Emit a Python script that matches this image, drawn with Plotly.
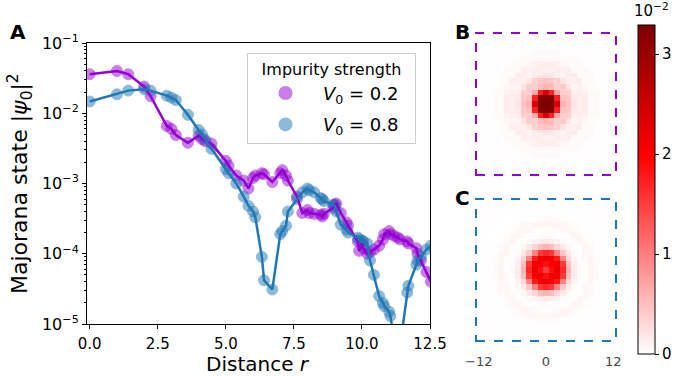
import numpy as np
import plotly.graph_objects as go

# ---------------- data ----------------
# distances (lattice distances) and |psi0|^2 for V0 = 0.2
r_02 = [0, 1, 1.414, 2, 2.236, 2.828, 3, 3.162, 3.606, 4, 4.123, 4.243, 4.472,
        5, 5.099, 5.385, 5.657, 5.831, 6, 6.083, 6.325, 6.403, 6.708, 7, 7.071,
        7.211, 7.28, 7.616, 7.81, 8, 8.062, 8.246, 8.485, 8.544, 8.602, 8.944,
        9, 9.055, 9.22, 9.434, 9.487, 9.849, 9.899, 10, 10.05, 10.198, 10.296,
        10.44, 10.63, 10.77, 10.817, 11, 11.045, 11.18, 11.314, 11.402, 11.662,
        11.705, 12, 12.042, 12.166, 12.369, 12.53]
psi_02 = [0.036, 0.040, 0.036, 0.024, 0.0175, 0.0066, 0.006, 0.0049, 0.0038,
          0.0048, 0.0043, 0.0040, 0.0037, 0.0021, 0.0018, 0.0013, 0.0011,
          0.00085, 0.0012, 0.0013, 0.0014, 0.00135, 0.00105, 0.0014, 0.00155,
          0.0013, 0.0011, 0.00065, 0.00038, 0.00042, 0.00038, 0.00037, 0.00036,
          0.00034, 0.00037, 0.00045, 0.00050, 0.00052, 0.00038, 0.00028,
          0.00025, 0.00015, 0.00011, 0.00014, 0.00012, 0.00010, 0.000105,
          0.000115, 0.00013, 0.00016, 0.00019, 0.00021, 0.00019, 0.00018,
          0.00017, 0.00016, 0.00015, 0.00014, 0.00012, 0.0001, 0.00008,
          0.000055, 0.00004]

# distances and |psi0|^2 for V0 = 0.8
r_08 = r_02
psi_08 = [0.0147, 0.0186, 0.021, 0.022, 0.021, 0.0178, 0.0167, 0.0154, 0.0095,
          0.0058, 0.0050, 0.0042, 0.0031, 0.0016, 0.0014, 0.0010, 0.00065,
          0.00048, 0.00040, 0.00033, 0.00009, 0.000042, 0.000031, 0.00019,
          0.00021, 0.00025, 0.00040, 0.00060, 0.00075, 0.00085, 0.00080,
          0.00075, 0.00062, 0.00060, 0.00056, 0.00050, 0.00048, 0.00040,
          0.00026, 0.00022, 0.00020, 0.00017, 0.00016, 0.000155, 0.00015,
          0.00014, 0.00008, 0.00005, 0.000025, 0.00002, 0.000018, 0.000015,
          0.000013, 0.000006, 0.000004, 0.000005, 0.000028, 0.000035, 0.00007,
          0.00008, 0.00009, 0.000115, 0.00013]

x_ticks = [0, 2.5, 5, 7.5, 10, 12.5]
x_ticklabels = ["0.0", "2.5", "5.0", "7.5", "10.0", "12.5"]
y_ticks = [1e-5, 1e-4, 1e-3, 1e-2, 1e-1]
y_ticklabels = ["10<sup>−5</sup>", "10<sup>−4</sup>", "10<sup>−3</sup>",
                "10<sup>−2</sup>", "10<sup>−1</sup>"]
grid_coords = list(range(-12, 13))
cb_ticks = [0, 0.01, 0.02, 0.03]
cb_ticklabels = ["0", "1", "2", "3"]

PURPLE = "#9400D3"
BLUE = "#1f77b4"
W, H = 676, 376
FONT = "DejaVu Sans"
PAD = "\u00a0" * 2


def fx(p):
    return p / W


def fy(p):
    return 1 - p / H


def radial_map(r, vals):
    r = np.asarray(r, float)
    vals = np.asarray(vals, float)
    g = np.asarray(grid_coords, float)
    X, Y = np.meshgrid(g, g)
    D = np.sqrt(X ** 2 + Y ** 2)
    idx = np.abs(D[..., None] - r[None, None, :]).argmin(axis=-1)
    return vals[idx]


fig = go.Figure()

# markers
fig.add_trace(go.Scatter(x=r_02, y=psi_02, mode="markers",
                         name="<i>V</i><sub>0</sub> = 0.2" + PAD,
                         legendgroup="a",
                         marker=dict(size=11, color=PURPLE, opacity=0.5,
                                     line=dict(color=PURPLE, width=1)),
                         xaxis="x", yaxis="y"))
fig.add_trace(go.Scatter(x=r_08, y=psi_08, mode="markers",
                         name="<i>V</i><sub>0</sub> = 0.8" + PAD,
                         legendgroup="b",
                         marker=dict(size=11, color=BLUE, opacity=0.5,
                                     line=dict(color=BLUE, width=1)),
                         xaxis="x", yaxis="y"))
# lines
fig.add_trace(go.Scatter(x=r_02, y=psi_02, mode="lines", showlegend=False,
                         line=dict(color=PURPLE, width=2.5), xaxis="x", yaxis="y"))
fig.add_trace(go.Scatter(x=r_08, y=psi_08, mode="lines", showlegend=False,
                         line=dict(color=BLUE, width=2.5), xaxis="x", yaxis="y"))

# heatmaps
fig.add_trace(go.Heatmap(z=radial_map(r_02, psi_02), x=grid_coords, y=grid_coords,
                         coloraxis="coloraxis", xaxis="x2", yaxis="y2"))
fig.add_trace(go.Heatmap(z=radial_map(r_08, psi_08), x=grid_coords, y=grid_coords,
                         coloraxis="coloraxis", xaxis="x3", yaxis="y3"))


def ann(text, x, y, size, angle=0, color="black"):
    return dict(text=text, x=fx(x), y=fy(y), xref="paper", yref="paper",
                xanchor="center", yanchor="middle", textangle=angle,
                showarrow=False, font=dict(family=FONT, size=size, color=color))


fig.update_layout(
    width=W, height=H,
    margin=dict(l=0, r=0, t=0, b=0, pad=0, autoexpand=False),
    paper_bgcolor="white", plot_bgcolor="white",
    font=dict(family=FONT, color="black"),
    xaxis=dict(domain=[fx(87), fx(430)], range=[-0.1, 12.5], anchor="y",
               tickvals=x_ticks, ticktext=x_ticklabels,
               tickfont=dict(family=FONT, size=15, color="black"),
               ticks="outside", ticklen=4, tickcolor="black", ticklabelstandoff=2,
               showline=True, linecolor="black", linewidth=1, mirror=True,
               showgrid=False, zeroline=False, automargin=False),
    yaxis=dict(domain=[fy(324), fy(43)], type="log", range=[-5, -1], anchor="x",
               tickvals=y_ticks, ticktext=y_ticklabels,
               tickfont=dict(family=FONT, size=16, color="black"),
               ticks="outside", ticklen=4, tickcolor="black",
               minor=dict(ticks="outside", ticklen=2, tickcolor="black", dtick="D1",
                          showgrid=False),
               showline=True, linecolor="black", linewidth=1, mirror=True,
               showgrid=False, zeroline=False, automargin=False),
    xaxis2=dict(domain=[fx(476), fx(616)], range=[-12.5, 12.5], anchor="y2",
                visible=False),
    yaxis2=dict(domain=[fy(175), fy(33)], range=[-12.5, 12.5], anchor="x2",
                visible=False),
    xaxis3=dict(domain=[fx(476), fx(616)], range=[-12.5, 12.5], anchor="y3",
                tickvals=[-12, 0, 12], ticktext=["−12", "0", "12"],
                tickfont=dict(family=FONT, size=13, color="#444444"),
                ticks="outside", ticklen=8, tickcolor="rgba(0,0,0,0)",
                showline=False, showgrid=False, zeroline=False, automargin=False),
    yaxis3=dict(domain=[fy(341), fy(199)], range=[-12.5, 12.5], anchor="x3",
                visible=False),
    coloraxis=dict(
        cmin=0, cmax=0.0329,
        colorscale=[[0, "#ffffff"], [0.6, "#ff0000"], [1, "#7f0000"]],
        colorbar=dict(thickness=17, thicknessmode="pixels",
                      len=329, lenmode="pixels",
                      x=fx(638), xanchor="left", xpad=0,
                      y=fy(354), yanchor="bottom", ypad=0,
                      outlinewidth=1, outlinecolor="black",
                      tickvals=cb_ticks, ticktext=cb_ticklabels,
                      ticks="outside", ticklen=4, tickcolor="black",
                      tickfont=dict(family=FONT, size=15, color="black")),
    ),
    legend=dict(x=fx(247), y=fy(53), xanchor="left", yanchor="top",
                bgcolor="white", bordercolor="#cccccc", borderwidth=1,
                font=dict(family=FONT, size=18, color="black"),
                title=dict(text="Impurity strength",
                           font=dict(family=FONT, size=16, color="black"),
                           side="top center"),
                itemsizing="constant", itemwidth=65, tracegroupgap=5,
                xref="paper", yref="paper"),
    shapes=[
        dict(type="rect", xref="paper", yref="paper",
             x0=fx(476), x1=fx(616), y0=fy(175), y1=fy(33),
             line=dict(color=PURPLE, width=2, dash="dash"), layer="above"),
        dict(type="rect", xref="paper", yref="paper",
             x0=fx(476), x1=fx(616), y0=fy(341), y1=fy(199),
             line=dict(color=BLUE, width=2, dash="dash"), layer="above"),
    ],
    annotations=[
        ann("<b>A</b>", 18, 32, 20),
        ann("<b>B</b>", 462, 32, 20),
        ann("<b>C</b>", 462, 198, 20),
        ann("Majorana state |<i>ψ</i><sub>0</sub>|<sup>2</sup>", 20, 184, 22, angle=-90),
        ann("Distance <i>r</i>", 258, 364, 20),
        ann("10<sup>−2</sup>", 651, 10, 15),
    ],
)

fig.write_html("out.html")
